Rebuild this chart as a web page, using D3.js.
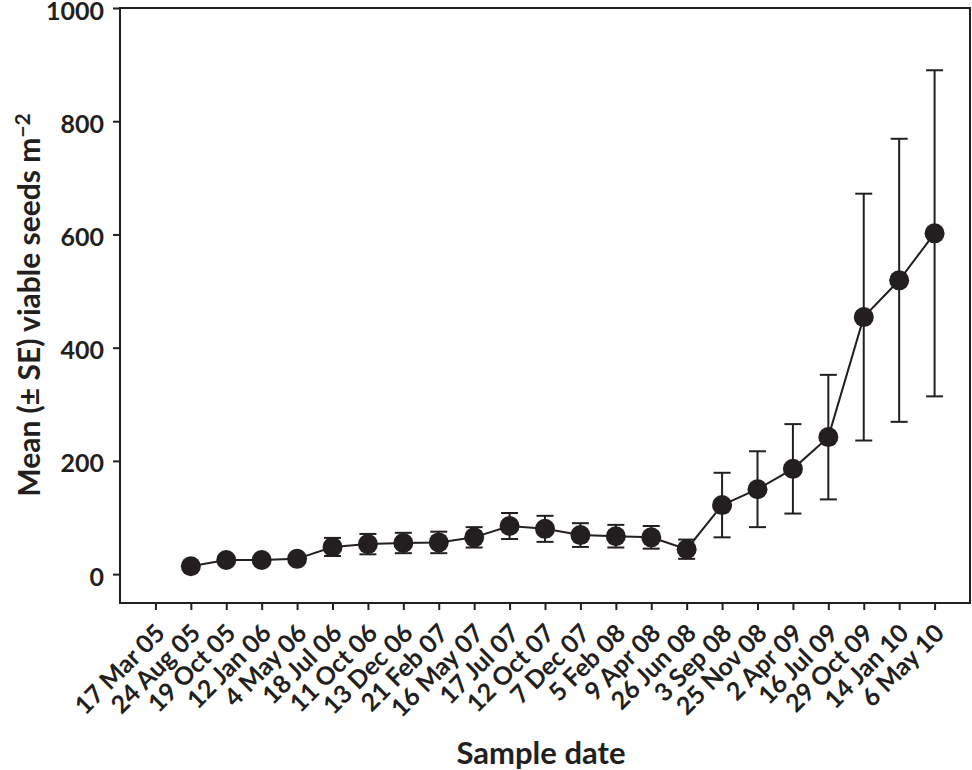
<!DOCTYPE html>
<html>
<head>
<meta charset="utf-8">
<script src="https://cdn.jsdelivr.net/npm/d3@7"></script>
<style>
  body { margin: 0; background: #fff; }
  text { font-family: Lato, "Open Sans", sans-serif; font-weight: 700; fill: #231f20; }
</style>
</head>
<body>
<div id="chart"></div>
<script>
// sample dates (first date has no measurement)
const dates = ["17 Mar 05", "24 Aug 05", "19 Oct 05", "12 Jan 06", "4 May 06", "18 Jul 06",
  "11 Oct 06", "13 Dec 06", "21 Feb 07", "16 May 07", "17 Jul 07", "12 Oct 07", "7 Dec 07",
  "5 Feb 08", "9 Apr 08", "26 Jun 08", "3 Sep 08", "25 Nov 08", "2 Apr 09", "16 Jul 09",
  "29 Oct 09", "14 Jan 10", "6 May 10"];
const means = [null, 14, 25, 25, 27, 48, 53, 55, 56, 65, 85, 80, 69, 67, 65, 44,
  122, 150, 186, 242, 454, 519, 602];
const ses = [null, 6, 6, 6, 6, 16, 18, 18, 19, 18, 23, 23, 21, 20, 20, 17,
  57, 67, 79, 110, 218, 250, 288];
const yTicks = [0, 200, 400, 600, 800, 1000];

const ink = "#231f20";
const margin = { top: 8, right: 2, bottom: 167, left: 120 },
      width = 972 - margin.left - margin.right,
      height = 770 - margin.top - margin.bottom;

const svg = d3.select("#chart")
    .append("svg")
    .attr("width", 972)
    .attr("height", 770)
    .append("g")
    .attr("transform", `translate(${margin.left},${margin.top})`);

const data = dates.map((d, i) => ({ date: d, mean: means[i], se: ses[i] }))
    .filter(d => d.mean !== null);

const x = d3.scalePoint()
    .domain(dates)
    .range([0, width])
    .padding(1);

const y = d3.scaleLinear()
    .domain([-51, 1000])
    .range([height, 0]);

// Axes
const xAxis = svg.append("g")
    .attr("transform", `translate(0,${height})`)
    .call(d3.axisBottom(x).tickSize(7).tickPadding(4));
xAxis.select(".domain").remove();
xAxis.selectAll("line").attr("stroke", ink).attr("stroke-width", 2);
xAxis.selectAll("text")
    .style("font-size", "25px")
    .attr("text-anchor", "end")
    .attr("dx", "-15px")
    .attr("dy", "19px")
    .attr("transform", "rotate(-45)");

const yAxis = svg.append("g")
    .call(d3.axisLeft(y).tickValues(yTicks).tickFormat(d3.format("d")).tickSize(7).tickPadding(9));
yAxis.select(".domain").remove();
yAxis.selectAll("line").attr("stroke", ink).attr("stroke-width", 2);
yAxis.selectAll("text").style("font-size", "25px").attr("dy", "0.44em");

// frame
svg.append("rect")
    .attr("width", width)
    .attr("height", height)
    .attr("fill", "none")
    .attr("stroke", ink)
    .attr("stroke-width", 2);

// error bars
const capW = 8.5;
const bars = svg.append("g").attr("stroke", ink).attr("stroke-width", 2);
data.forEach(d => {
    const cx = x(d.date);
    const top = y(d.mean + d.se), bot = y(d.mean - d.se);
    bars.append("line").attr("x1", cx).attr("x2", cx).attr("y1", top).attr("y2", bot);
    bars.append("line").attr("x1", cx - capW).attr("x2", cx + capW).attr("y1", top).attr("y2", top);
    bars.append("line").attr("x1", cx - capW).attr("x2", cx + capW).attr("y1", bot).attr("y2", bot);
});

// line
svg.append("path")
    .datum(data)
    .attr("fill", "none")
    .attr("stroke", ink)
    .attr("stroke-width", 2)
    .attr("d", d3.line().x(d => x(d.date)).y(d => y(d.mean)));

// points
svg.selectAll("circle.pt")
    .data(data)
    .enter()
    .append("circle")
    .attr("class", "pt")
    .attr("cx", d => x(d.date))
    .attr("cy", d => y(d.mean))
    .attr("r", 10)
    .attr("fill", ink);

// Axis titles
svg.append("text")
    .attr("x", 541 - margin.left)
    .attr("y", 764 - margin.top)
    .attr("text-anchor", "middle")
    .style("font-size", "31px")
    .text("Sample date");

const yt = svg.append("text")
    .attr("transform", `translate(${40 - margin.left},${305 - margin.top}) rotate(-90)`)
    .attr("text-anchor", "middle")
    .style("font-size", "30px");
yt.append("tspan").text("Mean (± SE) viable seeds m");
yt.append("tspan").attr("dy", "-0.5em").style("font-size", "21px").text("−2");
</script>
</body>
</html>
